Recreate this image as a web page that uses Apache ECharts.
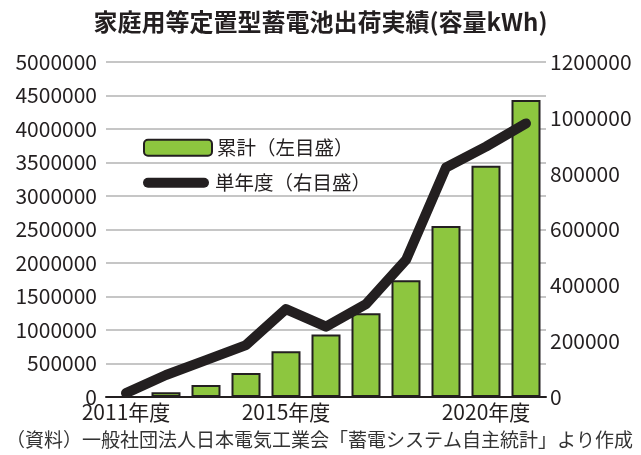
<!DOCTYPE html>
<html><head><meta charset="utf-8">
<script src="https://cdn.jsdelivr.net/npm/echarts@6/dist/echarts.min.js"></script>
<style>html,body{margin:0;padding:0;background:#fff}#c{width:641px;height:455px}</style>
</head><body><div id="c"></div>
<script>
const categories = ['2011','2012','2013','2014','2015','2016','2017','2018','2019','2020','2021'];
const shownLabels = {'2011':'2011年度','2015':'2015年度','2020':'2020年度'};
const cumulative = [null, 70000, 180000, 358000, 682000, 932000, 1249000, 1742000, 2552000, 3450000, 4433000];
const annual = [14000, 79000, 132000, 186000, 315000, 252000, 333000, 491000, 822000, 897000, 980000];
const leftTicks = {min:0, max:5000000, interval:500000};
const rightTicks = {min:0, max:1200000, interval:200000};
const barName = '累計（左目盛）';
const lineName = '単年度（右目盛）';

const FONT = '"Noto Sans CJK JP","Noto Sans",sans-serif';
const chart = echarts.init(document.getElementById('c'), null, {renderer:'canvas'});
chart.setOption({
  animation:false,
  title:{text:'家庭用等定置型蓄電池出荷実績(容量kWh)', left:'center', top:5,
    textStyle:{fontFamily:FONT, fontSize:24, fontWeight:'bold', color:'#231f20'}},
  graphic:[{type:'text', left:6, top:430,
    style:{text:'（資料）一般社団法人日本電気工業会「蓄電システム自主統計」より作成', font:'19px '+FONT, fill:'#333'}}],
  legend:[
    {data:[barName], left:138, top:133, itemWidth:68, itemHeight:16, itemGap:10,
      textStyle:{fontFamily:FONT, fontSize:19.5, color:'#231f20'}},
    {data:[{name:lineName, icon:'path://M5,0 L61,0 A5,5 0 0 1 61,10 L5,10 A5,5 0 0 1 5,0 Z'}], left:138, top:168, itemWidth:68, itemHeight:10, itemGap:10,
      textStyle:{fontFamily:FONT, fontSize:19.5, color:'#231f20'}}
  ],
  grid:{left:106, right:95, top:62, bottom:58},
  xAxis:{type:'category', data:categories, boundaryGap:true,
    axisLine:{lineStyle:{color:'#231f20', width:2}}, axisTick:{show:false},
    axisLabel:{interval:0, margin:5, fontFamily:FONT, fontSize:21, color:'#231f20',
      formatter:v=>shownLabels[v]||''}},
  yAxis:[
    {type:'value', min:leftTicks.min, max:leftTicks.max, interval:leftTicks.interval,
      axisLine:{show:false}, axisTick:{show:false},
      axisLabel:{margin:9, fontFamily:FONT, fontSize:21, color:'#231f20', formatter:v=>String(v)},
      splitLine:{lineStyle:{color:'#b3b3b3', width:1.5}}},
    {type:'value', min:rightTicks.min, max:rightTicks.max, interval:rightTicks.interval, position:'right',
      axisLine:{show:false}, axisTick:{show:false},
      axisLabel:{margin:4, fontFamily:FONT, fontSize:21, color:'#231f20', formatter:v=>String(v)},
      splitLine:{show:false}}
  ],
  series:[
    {name:barName, type:'bar', data:cumulative, yAxisIndex:0, barWidth:29,
      itemStyle:{color:'#8dc63f', borderColor:'#231f20', borderWidth:2}, z:2},
    {name:lineName, type:'line', data:annual, yAxisIndex:1, symbol:'none',
      itemStyle:{color:'#231f20'},
      lineStyle:{color:'#231f20', width:10, cap:'round', join:'round'}, z:3}
  ]
});
</script></body></html>
